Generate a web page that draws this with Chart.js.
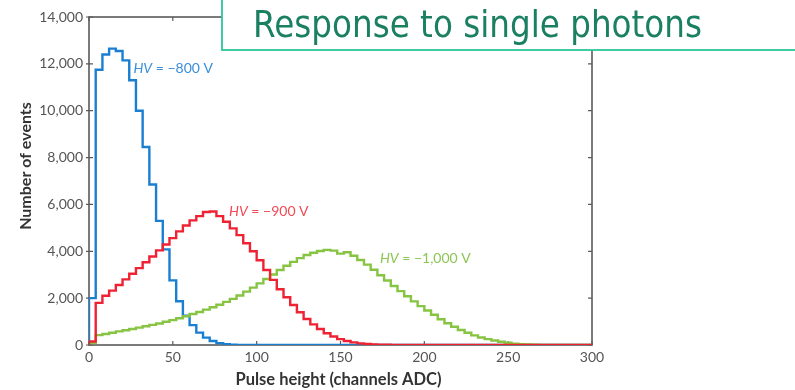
<!DOCTYPE html>
<html>
<head>
<meta charset="utf-8">
<script src="https://cdn.jsdelivr.net/npm/chart.js@4.4.1/dist/chart.umd.min.js"></script>
<style>
  html, body { margin: 0; padding: 0; background: #fff; }
  #wrap { width: 795px; height: 390px; }
</style>
</head>
<body>
<div id="wrap"><canvas id="pulseChart" width="795" height="390"></canvas></div>
<script>
// Pulse-height spectra for three PMT voltages, 4-channel bins (left edges)
const BIN_WIDTH = 4;
const binEdges = [
    0, 4, 8, 12, 16, 20, 24, 28, 32, 36, 40, 44, 48, 52, 56, 60, 64, 68, 72, 76,
    80, 84, 88, 92, 96, 100, 104, 108, 112, 116, 120, 124, 128, 132, 136, 140, 144, 148, 152, 156,
    160, 164, 168, 172, 176, 180, 184, 188, 192, 196, 200, 204, 208, 212, 216, 220, 224, 228, 232, 236,
    240, 244, 248, 252, 256, 260, 264, 268, 272, 276, 280, 284, 288, 292, 296
];

const countsHV800 = [
    2000, 11750, 12400, 12650, 12550, 12150, 11300, 10000, 8450, 6850, 5300, 4080, 2760, 1870, 1250, 850, 530, 315, 170, 80,
    35, 15, 5, 0, 0, 0, 0, 0, 0, 0, 0, 0, 0, 0, 0, 0, 0, 0, 0, 0,
    0, 0, 0, 0, 0, 0, 0, 0, 0, 0, 0, 0, 0, 0, 0, 0, 0, 0, 0, 0,
    0, 0, 0, 0, 0, 0, 0, 0, 0, 0, 0, 0, 0, 0, 0
];

const countsHV900 = [
    150, 1800, 2100, 2320, 2560, 2800, 3040, 3280, 3530, 3780, 4040, 4290, 4560, 4850, 5100, 5320, 5500, 5680, 5700, 5500,
    5260, 4980, 4690, 4340, 4000, 3620, 3200, 2780, 2380, 2040, 1710, 1400, 1110, 880, 680, 500, 360, 250, 170, 110,
    70, 40, 25, 15, 8, 0, 0, 0, 0, 0, 0, 0, 0, 0, 0, 0, 0, 0, 0, 0,
    0, 0, 0, 0, 0, 0, 0, 0, 0, 0, 0, 0, 0, 0, 0
];

const countsHV1000 = [
    80, 420, 470, 520, 580, 630, 680, 740, 800, 860, 920, 990, 1060, 1140, 1230, 1320, 1410, 1510, 1610, 1720,
    1840, 1970, 2110, 2280, 2450, 2630, 2820, 3010, 3200, 3380, 3550, 3710, 3840, 3940, 4010, 4060, 4030, 3900, 3960, 3810,
    3630, 3430, 3210, 2980, 2750, 2520, 2300, 2080, 1860, 1660, 1470, 1290, 1100, 930, 780, 640, 520, 410, 320, 250,
    190, 140, 95, 60, 38, 22, 12, 6, 0, 0, 0, 0, 0, 0, 0
];

const seriesNames = ['HV = −800 V', 'HV = −900 V', 'HV = −1,000 V'];
const xTicks = [0, 50, 100, 150, 200, 250, 300];
const yTicks = [0, 2000, 4000, 6000, 8000, 10000, 12000, 14000];

const COLORS = {
    blue: '#1b7fd1',
    red: '#ee2233',
    green: '#86c442',
    blueText: '#3b8fd9',
    redText: '#f04a56',
    greenText: '#8dc655',
    frame: '#5a5a5a',
    tickText: '#555555',
    axisTitle: '#333333',
    boxBorder: '#2bc79b',
    boxText: '#1b8062'
};

// Where each curve's label sits, in data units
const labelAnchors = [
    { x: 26.5, y: 11800, color: COLORS.blueText },
    { x: 83.5, y: 5680, color: COLORS.redText },
    { x: 173.5, y: 3700, color: COLORS.greenText }
];

// Turn bin counts into points for a stepped line, closing at the last edge
function toSteps(counts) {
    const pts = [{ x: binEdges[0], y: 0 }];
    binEdges.forEach((edge, i) => pts.push({ x: edge, y: counts[i] }));
    pts.push({ x: binEdges[binEdges.length - 1] + BIN_WIDTH, y: counts[counts.length - 1] });
    return pts;
}

function stepDataset(label, counts, color) {
    return {
        label: label,
        data: toSteps(counts),
        stepped: true,
        borderColor: color,
        borderWidth: 2.4,
        pointRadius: 0,
        fill: false
    };
}

Chart.defaults.font.family = "Lato, 'Open Sans', sans-serif";

// Box frame, inward ticks, curve labels, axis titles and the heading box
const decorations = {
    id: 'decorations',
    beforeDatasetsDraw(chart) {
        const { ctx, chartArea: a, scales: { x, y } } = chart;
        ctx.save();
        ctx.strokeStyle = COLORS.frame;
        ctx.lineWidth = 1.6;
        ctx.strokeRect(a.left, a.top, a.right - a.left, a.bottom - a.top);
        ctx.lineWidth = 1.2;
        ctx.beginPath();
        xTicks.forEach(v => {
            const px = x.getPixelForValue(v);
            ctx.moveTo(px, a.bottom);
            ctx.lineTo(px, a.bottom - 4);
            ctx.moveTo(px, a.top);
            ctx.lineTo(px, a.top + 4);
        });
        yTicks.forEach(v => {
            const py = y.getPixelForValue(v);
            ctx.moveTo(a.left - 3, py);
            ctx.lineTo(a.left + 4, py);
            ctx.moveTo(a.right, py);
            ctx.lineTo(a.right - 4, py);
        });
        ctx.stroke();
        ctx.restore();
    },
    afterDatasetsDraw(chart) {
        const { ctx, scales: { x, y } } = chart;
        ctx.save();
        ctx.textBaseline = 'middle';
        ctx.textAlign = 'left';
        seriesNames.forEach((name, i) => {
            const anchor = labelAnchors[i];
            let px = x.getPixelForValue(anchor.x);
            const py = y.getPixelForValue(anchor.y);
            const head = name.slice(0, 2);      // "HV" in italics
            const rest = name.slice(2);
            ctx.fillStyle = anchor.color;
            ctx.font = "italic 14px Lato, sans-serif";
            ctx.fillText(head, px, py);
            px += ctx.measureText(head).width;
            ctx.font = "14px Lato, sans-serif";
            ctx.fillText(rest, px, py);
        });
        ctx.restore();
    },
    afterDraw(chart) {
        const { ctx, chartArea: a } = chart;
        ctx.save();

        // axis titles
        ctx.fillStyle = COLORS.axisTitle;
        ctx.font = "bold 16.5px Lato, sans-serif";
        ctx.textAlign = 'center';
        ctx.textBaseline = 'middle';
        ctx.fillText('Pulse height (channels ADC)', (a.left + a.right) / 2 - 2, 380);
        ctx.font = "bold 16px Lato, sans-serif";
        ctx.translate(26, (a.top + a.bottom) / 2 - 15);
        ctx.rotate(-Math.PI / 2);
        ctx.fillText('Number of events', 0, 0);
        ctx.setTransform(1, 0, 0, 1, 0, 0);

        // heading box in the top-right corner
        ctx.fillStyle = '#ffffff';
        ctx.fillRect(222, -5, 600, 55);
        ctx.strokeStyle = COLORS.boxBorder;
        ctx.lineWidth = 1.8;
        ctx.strokeRect(222, -5, 600, 55);

        const heading = 'Response to single photons';
        ctx.font = "38px 'DejaVu Sans', sans-serif";
        ctx.textAlign = 'left';
        ctx.textBaseline = 'alphabetic';
        ctx.fillStyle = COLORS.boxText;
        const sx = 449 / ctx.measureText(heading).width;
        ctx.translate(253, 37);
        ctx.scale(sx, 1);
        ctx.fillText(heading, 0, 0);
        ctx.restore();
    }
};

new Chart(document.getElementById('pulseChart'), {
    type: 'line',
    data: {
        // red first so it is painted on top, then green, then blue
        datasets: [
            stepDataset(seriesNames[1], countsHV900, COLORS.red),
            stepDataset(seriesNames[2], countsHV1000, COLORS.green),
            stepDataset(seriesNames[0], countsHV800, COLORS.blue)
        ]
    },
    options: {
        responsive: false,
        animation: false,
        layout: {
            padding: { top: 17, right: 203, left: 0, bottom: 0 }
        },
        plugins: {
            legend: { display: false },
            tooltip: { enabled: false }
        },
        scales: {
            x: {
                type: 'linear',
                min: 0,
                max: 300,
                afterFit: s => { s.height = 45; },
                afterBuildTicks: s => { s.ticks = xTicks.map(v => ({ value: v })); },
                grid: { display: false, drawTicks: false },
                border: { display: false },
                ticks: {
                    padding: 4,
                    color: COLORS.tickText,
                    font: { size: 14 }
                }
            },
            y: {
                min: 0,
                max: 14000,
                afterFit: s => { s.width = 89; },
                afterBuildTicks: s => { s.ticks = yTicks.map(v => ({ value: v })); },
                grid: { display: false, drawTicks: false },
                border: { display: false },
                ticks: {
                    padding: 6,
                    color: COLORS.tickText,
                    font: { size: 14 },
                    callback: v => v.toLocaleString('en-US')
                }
            }
        }
    },
    plugins: [decorations]
});
</script>
</body>
</html>
